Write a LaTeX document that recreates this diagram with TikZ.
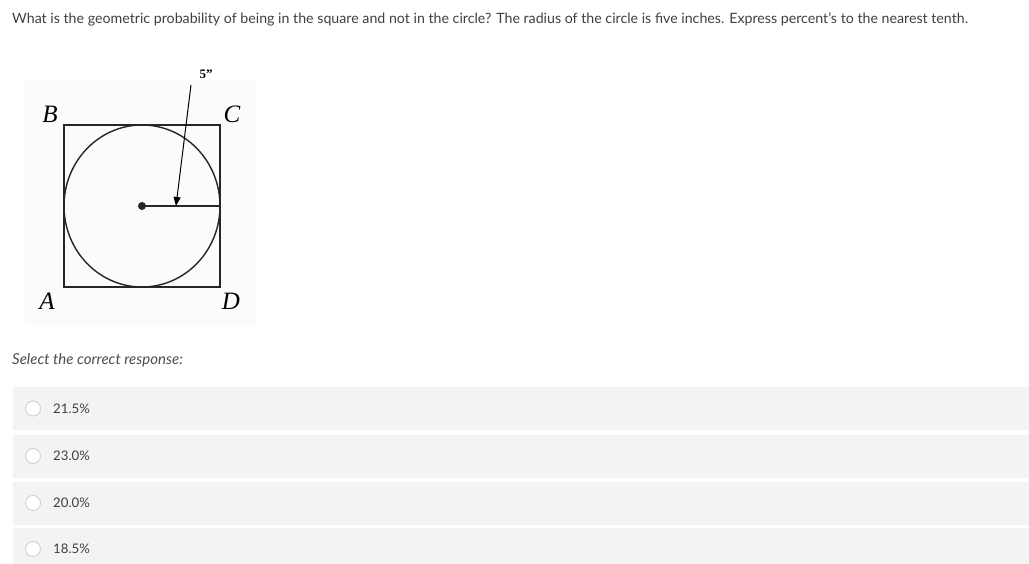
\documentclass[tikz,border=0pt]{standalone}
\usepackage{fontspec}
\setmainfont{Lato}
\newfontfamily\figfont{Liberation Serif}
\usetikzlibrary{arrows.meta}
\definecolor{qtext}{HTML}{404040}
\definecolor{optfill}{HTML}{F3F3F3}
\definecolor{radioline}{HTML}{D0D0D0}
\definecolor{scanbg}{HTML}{FBFBFB}
\tikzset{
  qtxt/.style={anchor=west, text=qtext, inner sep=0pt, font=\fontsize{14.2}{16}\selectfont},
  opttxt/.style={anchor=west, text=qtext, inner sep=0pt, font=\fontsize{13.2}{15}\selectfont},
  radio/.style={circle, draw=radioline, fill=white, line width=0.9pt, minimum size=15pt, inner sep=0pt},
  vertex/.style={inner sep=0pt, font=\figfont\itshape\fontsize{25}{25}\selectfont},
  edge/.style={line width=1.4pt, draw=black!85},
}
\begin{document}
\begin{tikzpicture}[x=1pt,y=-1pt]
\useasboundingbox (0,0) rectangle (1029,564);
\fill[white] (0,0) rectangle (1029,564);
\node[qtxt] (question) at (12,19) {What is the geometric probability of being in the square and not in the circle? The radius of the circle is five inches. Express percent’s to the nearest tenth.};
% figure
\fill[scanbg] (25,80) rectangle (256,326);
\coordinate (A) at (64,287);
\coordinate (B) at (64,125);
\coordinate (C) at (220,125);
\coordinate (D) at (220,287);
\coordinate (O) at (142,206);
\coordinate (R) at (220,206);
\coordinate (tail) at (191,85);
\coordinate (tip) at (176,206);
\draw[edge] (A) -- (B) -- (C) -- (D) -- cycle;
\draw[edge] (O) ellipse [x radius=78pt, y radius=81pt];
\draw[edge] (O) -- (R);
\fill[black!85] (O) circle (4pt);
\draw[line width=1pt, -{Triangle[length=9pt,width=7pt]}] (tail) -- (tip);
\node[vertex] (lblB) at (50,114) {B};
\node[vertex] (lblC) at (232,114) {C};
\node[vertex] (lblA) at (47,301) {A};
\node[vertex] (lblD) at (231,301) {D};
\node[inner sep=0pt, font=\figfont\bfseries\fontsize{13}{13}\selectfont] (lblR) at (206,74) {5”};
% answers
\node[qtxt, font=\itshape\fontsize{15}{17}\selectfont, text=black!70] (prompt) at (12,360) {Select the correct response:};
\foreach \i/\y/\val in {1/408.5/21.5, 2/456/23.0, 3/503/20.0, 4/549/18.5} {
  \fill[optfill] (13,\y-21.5) rectangle (1029,\y+21.5);
  \node[radio] (radio\i) at (33,\y) {};
  \node[opttxt] (opt\i) at (53,\y) {\val\%};
}
\end{tikzpicture}
\end{document}
